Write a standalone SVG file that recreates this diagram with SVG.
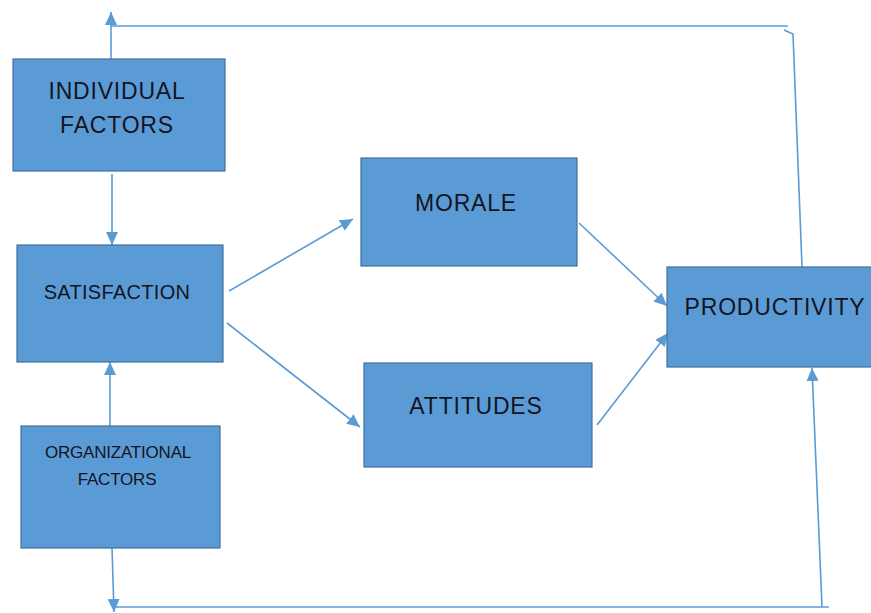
<svg xmlns="http://www.w3.org/2000/svg" width="871" height="613" viewBox="0 0 871 613">
  <style>
    .box { fill: #5B9BD5; stroke: #41719C; stroke-width: 1.2; }
    .label { font-family: "Liberation Sans", "DejaVu Sans", sans-serif; fill: #14141f; text-anchor: middle; }
    .big { font-size: 23px; letter-spacing: 0.8px; }
    .mid { font-size: 20px; letter-spacing: 0.3px; }
    .small { font-size: 17px; letter-spacing: -0.2px; }
    .link { fill: none; stroke: #5B9BD5; stroke-width: 1.6; }
  </style>
  <defs>
    <marker id="head" markerUnits="userSpaceOnUse" markerWidth="14" markerHeight="14" refX="13" refY="7" orient="auto">
      <path d="M0,1 L13,7 L0,13 Z" fill="#5B9BD5"/>
    </marker>
  </defs>

  <g id="connectors">
    <!-- feedback loop over the top -->
    <path class="link" d="M802,267 L793,34 L784,30"/>
    <path class="link" d="M788,26 L111,26"/>
    <path class="link" d="M111,59 L111,12" marker-end="url(#head)"/>
    <!-- individual factors to satisfaction -->
    <path class="link" d="M112,174 L112,245" marker-end="url(#head)"/>
    <!-- organizational factors to satisfaction -->
    <path class="link" d="M110,426 L110,362" marker-end="url(#head)"/>
    <!-- satisfaction to morale / attitudes -->
    <path class="link" d="M229,291 L353,219" marker-end="url(#head)"/>
    <path class="link" d="M227,323 L360,427" marker-end="url(#head)"/>
    <!-- morale / attitudes to productivity -->
    <path class="link" d="M579,223 L667,306" marker-end="url(#head)"/>
    <path class="link" d="M597,425 L668,333" marker-end="url(#head)"/>
    <!-- feedback loop along the bottom -->
    <path class="link" d="M112,548 L114,612" marker-end="url(#head)"/>
    <path class="link" d="M114,607 L829,607"/>
    <path class="link" d="M822,607 L812,368" marker-end="url(#head)"/>
  </g>

  <g id="individual-factors">
    <rect class="box" x="13" y="59" width="212" height="112"/>
    <text class="label big" x="117" y="99">INDIVIDUAL</text>
    <text class="label big" x="117" y="133">FACTORS</text>
  </g>

  <g id="satisfaction">
    <rect class="box" x="17" y="245" width="206" height="117"/>
    <text class="label mid" x="117" y="299">SATISFACTION</text>
  </g>

  <g id="organizational-factors">
    <rect class="box" x="21" y="426" width="199" height="122"/>
    <text class="label small" x="118" y="458">ORGANIZATIONAL</text>
    <text class="label small" x="117" y="485">FACTORS</text>
  </g>

  <g id="morale">
    <rect class="box" x="361" y="158" width="216" height="108"/>
    <text class="label big" x="466" y="211">MORALE</text>
  </g>

  <g id="attitudes">
    <rect class="box" x="364" y="363" width="228" height="104"/>
    <text class="label big" x="476" y="414">ATTITUDES</text>
  </g>

  <g id="productivity">
    <rect class="box" x="667" y="267" width="210" height="100"/>
    <text class="label big" x="775" y="315">PRODUCTIVITY</text>
  </g>
</svg>
